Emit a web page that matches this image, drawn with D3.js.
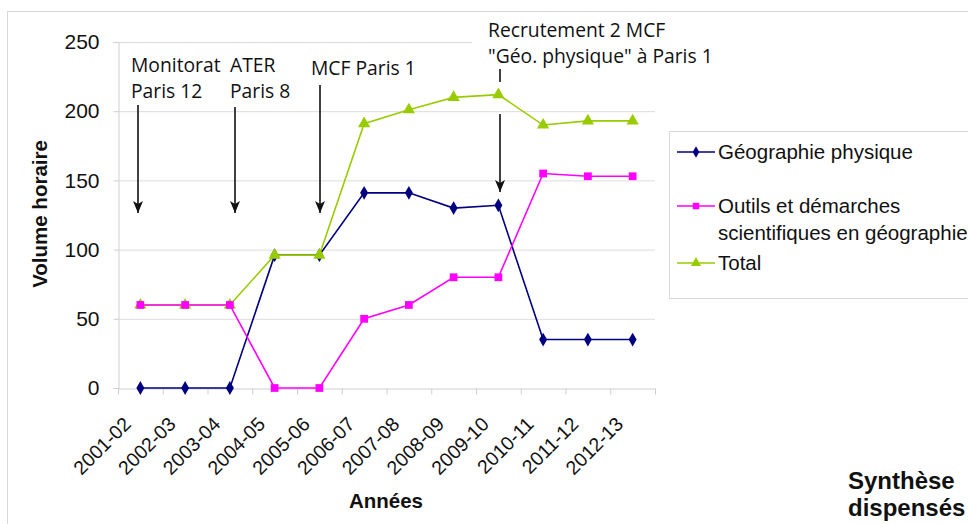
<!DOCTYPE html>
<html>
<head>
  <meta charset="utf-8">
  <title>Volume horaire</title>
  <script src="https://d3js.org/d3.v7.min.js"></script>
  <style>
    body { margin: 0; background: #fff; }
    svg { display: block; }
    .tick text { font-family: "Liberation Sans", Arial, sans-serif; }
    .note { font-family: "Open Sans", sans-serif; font-size: 19.3px; fill: #111; }
  </style>
</head>
<body>
  <script>
    const years = ["2001-02", "2002-03", "2003-04", "2004-05", "2005-06", "2006-07",
      "2007-08", "2008-09", "2009-10", "2010-11", "2011-12", "2012-13"];
    const geoPhysique = [0, 0, 0, 96, 96, 141, 141, 130, 132, 35, 35, 35];
    const outils = [60, 60, 60, 0, 0, 50, 60, 80, 80, 155, 153, 153];
    const total = [60, 60, 60, 96, 96, 191, 201, 210, 212, 190, 193, 193];
    const yTicks = [0, 50, 100, 150, 200, 250];

    // annotations above the plot
    const notes = [
      { lines: ["Monitorat", "Paris 12"], ax: 138, tx: 131, top: 105 },
      { lines: ["ATER", "Paris 8"], ax: 235, tx: 230, top: 107 },
      { lines: ["MCF Paris 1"], ax: 320, tx: 311, top: 85 }
    ];

    const width = 968, height = 524;
    const margin = { left: 118, right: 313, top: 42, bottom: 136 };
    const font = "Liberation Sans, Arial, sans-serif";

    const svg = d3.select("body").append("svg")
      .attr("width", width)
      .attr("height", height);

    // outer frame
    svg.append("rect")
      .attr("x", 7.5).attr("y", 11.5)
      .attr("width", 1000).attr("height", 600)
      .attr("fill", "#fff").attr("stroke", "#d8d8d8");

    const x = d3.scaleBand().domain(years).range([margin.left, width - margin.right]);
    const y = d3.scaleLinear().domain([0, 250]).range([height - margin.bottom, margin.top]);
    const cx = d => x(d) + x.bandwidth() / 2;

    // gridlines
    svg.append("g").selectAll("line").data(yTicks.slice(1)).join("line")
      .attr("x1", margin.left).attr("x2", width - margin.right)
      .attr("y1", d => y(d) + 0.5).attr("y2", d => y(d) + 0.5)
      .attr("stroke", "#dcdcdc");

    // y axis
    const yAxis = svg.append("g")
      .attr("transform", `translate(${margin.left + 0.5},0)`)
      .call(d3.axisLeft(y).tickValues(yTicks).tickSize(5).tickPadding(14));
    yAxis.select(".domain").attr("stroke", "#cfcfcf");
    yAxis.selectAll(".tick line").attr("stroke", "#cfcfcf");
    yAxis.selectAll(".tick text").attr("font-size", 21).attr("fill", "#111");

    // x axis
    const xAxis = svg.append("g")
      .attr("transform", `translate(0,${y(0) + 0.5})`)
      .call(d3.axisBottom(x).tickSize(0).tickFormat(""));
    xAxis.select(".domain").attr("stroke", "#cfcfcf");
    xAxis.selectAll(".tick").remove();
    const bounds = years.map(d => x(d)).concat([width - margin.right]);
    xAxis.selectAll("line.bt").data(bounds).join("line")
      .attr("class", "bt")
      .attr("x1", d => d + 0.5).attr("x2", d => d + 0.5)
      .attr("y1", 0).attr("y2", 6)
      .attr("stroke", "#cfcfcf");
    xAxis.selectAll("text.lbl").data(years).join("text")
      .attr("class", "lbl")
      .attr("transform", d => `translate(${cx(d) - 13},${32}) rotate(-45)`)
      .attr("text-anchor", "end")
      .attr("dy", "0.35em")
      .attr("font-family", font)
      .attr("font-size", 19.5)
      .attr("fill", "#111")
      .text(d => d);

    // axis titles
    svg.append("text")
      .attr("transform", `translate(47,214) rotate(-90)`)
      .attr("text-anchor", "middle")
      .attr("font-family", font)
      .attr("font-weight", "bold").attr("font-size", 20.5)
      .attr("fill", "#111")
      .text("Volume horaire");
    svg.append("text")
      .attr("x", 386)
      .attr("y", 508)
      .attr("text-anchor", "middle")
      .attr("font-family", font)
      .attr("font-weight", "bold").attr("font-size", 20.5)
      .attr("fill", "#111")
      .text("Années");

    // arrow head
    svg.append("defs").append("marker")
      .attr("id", "arr")
      .attr("viewBox", "0 0 12 10")
      .attr("refX", 12).attr("refY", 5)
      .attr("markerWidth", 12).attr("markerHeight", 10)
      .attr("markerUnits", "userSpaceOnUse")
      .attr("orient", "auto")
      .append("path").attr("d", "M0,0 L12,5 L0,10 L3,5 Z").attr("fill", "#111");

    const arrowTip = 213;
    notes.forEach(n => {
      const t = svg.append("text").attr("class", "note")
        .attr("y", n.lines.length > 1 ? 72 : 75);
      n.lines.forEach((l, j) => {
        t.append("tspan").attr("x", n.tx).attr("dy", j ? 26 : 0).text(l);
      });
      svg.append("line")
        .attr("x1", n.ax).attr("x2", n.ax)
        .attr("y1", n.top).attr("y2", arrowTip)
        .attr("stroke", "#111").attr("stroke-width", 1.6)
        .attr("marker-end", "url(#arr)");
    });

    // series
    const series = [
      { name: "Géographie physique", values: geoPhysique, color: "#000080", shape: d3.symbolDiamond, size: 55 },
      { name: "Outils et démarches|scientifiques en géographie", values: outils, color: "#ff00ff", shape: d3.symbolSquare, size: 60 },
      { name: "Total", values: total, color: "#99cc00", shape: d3.symbolTriangle, size: 65 }
    ];

    const line = d3.line().x((d, i) => cx(years[i])).y(d => y(d));
    const drawOrder = [0, 2, 1];
    drawOrder.forEach(k => {
      const s = series[k];
      svg.append("path")
        .attr("d", line(s.values))
        .attr("fill", "none")
        .attr("stroke", s.color).attr("stroke-width", 1.6);
    });
    drawOrder.forEach(k => {
      const s = series[k];
      svg.append("g").selectAll("path").data(s.values).join("path")
        .attr("transform", (d, i) => `translate(${cx(years[i])},${y(d)})`)
        .attr("d", d3.symbol().type(s.shape).size(s.size))
        .attr("fill", s.color);
    });

    // recruitment note (white box hides gridline)
    svg.append("rect").attr("x", 472).attr("y", 16).attr("width", 200).attr("height", 52).attr("fill", "#fff");
    const rt = svg.append("text").attr("class", "note").attr("y", 37);
    rt.append("tspan").attr("x", 488).text("Recrutement 2 MCF");
    rt.append("tspan").attr("x", 488).attr("dy", 26).text("\"Géo. physique\" à Paris 1");
    svg.append("line").attr("x1", 500).attr("x2", 500).attr("y1", 69).attr("y2", 82)
      .attr("stroke", "#111").attr("stroke-width", 1.6);
    svg.append("line").attr("x1", 500).attr("x2", 500).attr("y1", 114).attr("y2", 192)
      .attr("stroke", "#111").attr("stroke-width", 1.6)
      .attr("marker-end", "url(#arr)");

    // legend
    svg.append("rect")
      .attr("x", 669.5).attr("y", 131.5).attr("width", 400).attr("height", 167)
      .attr("fill", "#fff").attr("stroke", "#d8d8d8");
    const legY = [152, 206, 263];
    series.forEach((s, i) => {
      const g = svg.append("g").attr("transform", `translate(0,${legY[i]})`);
      g.append("line").attr("x1", 677).attr("x2", 715).attr("y1", 0).attr("y2", 0)
        .attr("stroke", s.color).attr("stroke-width", 1.6);
      g.append("path").attr("transform", "translate(696,0)")
        .attr("d", d3.symbol().type(s.shape).size(s.size * 0.7))
        .attr("fill", s.color);
      const t = g.append("text")
        .attr("font-family", font)
        .attr("font-size", 20.5).attr("fill", "#111");
      s.name.split("|").forEach((l, j) => {
        t.append("tspan").attr("x", 718).attr("dy", j ? 27 : "0.35em").text(l);
      });
    });

    // caption, partly outside the picture in the original
    const cap = svg.append("text")
      .attr("font-family", font)
      .attr("font-weight", "bold").attr("font-size", 24).attr("fill", "#111");
    cap.append("tspan").attr("x", 848).attr("y", 489).text("Synthèse");
    cap.append("tspan").attr("x", 848).attr("y", 516).text("dispensés");
  </script>
</body>
</html>
